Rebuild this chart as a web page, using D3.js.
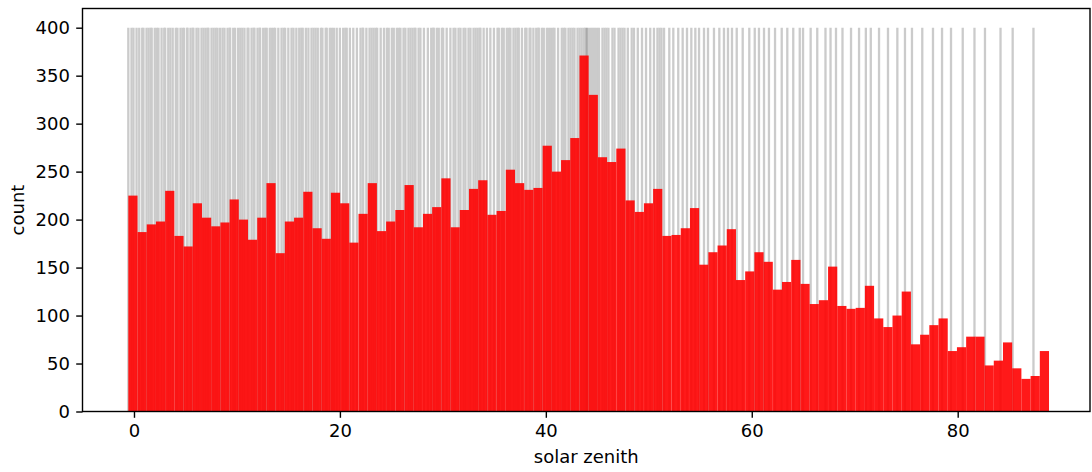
<!DOCTYPE html>
<html>
<head>
<meta charset="utf-8">
<script src="https://cdn.jsdelivr.net/npm/d3@7"></script>
<style>
  body { margin: 0; background: #fff; }
  text { font-family: "DejaVu Sans", sans-serif; fill: #000; }
</style>
</head>
<body>
<svg id="chart" width="1092" height="472"></svg>
<script>
// Histogram counts per solar-zenith bin (100 equal bins)
const counts = [
  225, 187, 195, 198, 230, 183, 172, 217, 202, 193,
  197, 221, 200, 179, 202, 238, 165, 198, 202, 229,
  191, 180, 228, 217, 176, 206, 238, 188, 198, 210,
  236, 192, 206, 213, 243, 192, 210, 232, 241, 205,
  209, 252, 238, 231, 233, 277, 250, 262, 285, 371,
  330, 265, 260, 274, 220, 208, 217, 232, 183, 184,
  191, 212, 153, 166, 173, 190, 137, 146, 166, 156,
  127, 135, 158, 133, 112, 116, 151, 110, 107, 108,
  131, 97, 88, 100, 125, 70, 80, 90, 97, 63,
  67, 78, 78, 48, 53, 72, 45, 34, 37, 63
];
// Zenith range covered by the bins
const binRange = [-0.55, 88.87];

// Individual zenith positions marked with reference lines
const zenithLines = [
  -0.55, -0.24, -0.05, 0.25, 0.51, 0.80, 0.92, 1.22, 1.42, 1.62, 1.72,
  2.02, 2.22, 2.38, 2.68, 2.94, 3.03, 3.33, 3.53, 3.76, 4.06, 4.22,
  4.52, 4.72, 4.87, 5.17, 5.19, 5.49, 5.69, 5.77, 6.07, 6.26,
  6.56, 6.76, 6.96, 7.16, 7.23, 7.53, 7.73, 7.93, 8.11, 8.36,
  8.60, 8.79, 9.09, 9.29, 9.34, 9.64, 9.82, 10.12, 10.32, 10.52, 10.73,
  11.03, 11.12, 11.42, 11.62, 11.70, 12.00, 12.20, 12.25, 12.55, 12.75, 12.89,
  13.19, 13.39, 13.59, 13.71, 14.02, 14.33, 14.53, 14.68, 14.99,
  15.30, 15.49, 15.77, 16.05, 16.25, 16.39, 16.69, 16.94,
  17.24, 17.44, 17.64, 17.85, 18.15, 18.30, 18.62, 18.72,
  19.02, 19.22, 19.42, 19.69, 20.00, 20.32, 20.52, 20.66, 20.97, 21.30, 21.65,
  22.00, 22.20, 22.26, 22.57, 22.88, 23.08, 23.28, 23.48, 23.62, 23.96,
  24.28, 24.56, 24.74, 25.04, 25.23, 25.53, 25.73, 25.88, 26.18, 26.36,
  26.66, 26.86, 27.06, 27.26, 27.34, 27.64, 27.82, 28.16, 28.54,
  28.87, 29.07, 29.11, 29.41, 29.60, 29.90, 30.03, 30.37, 30.73,
  31.04, 31.22, 31.52, 31.71, 32.01, 32.19, 32.49, 32.68,
  32.98, 33.18, 33.38, 33.58, 33.65, 33.96, 34.28, 34.61, 34.96,
  35.31, 35.43, 35.73, 35.91, 36.21, 36.41, 36.56, 36.86, 37.06, 37.26, 37.37,
  37.68, 38.00, 38.12, 38.42, 38.51, 38.79, 39.07, 39.27, 39.31, 39.61, 39.80,
  40.10, 40.30, 40.50, 40.70, 40.84, 41.19, 41.55, 41.75, 41.90,
  42.20, 42.40, 42.60, 42.78, 43.08, 43.28, 43.48, 43.68, 43.82,
  44.19, 44.39, 44.58, 44.77, 44.97, 45.16, 45.50, 45.70, 45.89, 46.08,
  46.47, 46.67, 47.06, 47.25, 47.45, 47.64, 47.96, 48.34, 48.56, 48.93,
  49.34, 49.73, 50.14, 50.50, 50.84, 51.04, 51.23, 51.48, 51.99, 52.38,
  52.86, 53.29, 53.71, 54.13, 54.52, 54.88, 55.36, 55.75, 56.33, 56.85,
  57.30, 57.69, 58.08, 58.54, 59.12, 59.76, 60.29, 60.70, 61.19, 61.67,
  62.26, 62.91, 63.45, 64.03, 64.66, 64.98, 65.72, 66.36, 67.16, 67.65,
  68.18, 68.81, 69.64, 70.42, 71.08, 71.56, 72.36, 73.23, 74.14, 74.88,
  75.56, 76.56, 77.60, 78.48, 79.35, 80.49, 81.63, 82.65, 84.16, 85.34,
  87.36
];
// Highlighted zenith line (drawn darker)
const peakZenith = [43.97];
const lineTop = 400;

const xTicks = [0, 20, 40, 60, 80];
const yTicks = [0, 50, 100, 150, 200, 250, 300, 350, 400];
const xDomain = [-5.0, 92.85];
const yDomain = [0, 420];

const plot = { left: 82.5, right: 1090, top: 8.5, bottom: 411.5 };
const fontSize = 18;
const tickLen = 6.3, tickPad = 6.3;

const svg = d3.select("#chart");
const x = d3.scaleLinear().domain(xDomain).range([plot.left, plot.right]);
const y = d3.scaleLinear().domain(yDomain).range([plot.bottom, plot.top]);

// Reference lines, behind the histogram
svg.append("g")
  .selectAll("line")
  .data(zenithLines)
  .join("line")
  .attr("x1", d => x(d)).attr("x2", d => x(d))
  .attr("y1", y(0)).attr("y2", y(lineTop))
  .attr("stroke", "#cbcbcb")
  .attr("stroke-width", 2.3);

svg.append("g")
  .selectAll("line")
  .data(peakZenith)
  .join("line")
  .attr("x1", d => x(d)).attr("x2", d => x(d))
  .attr("y1", y(0)).attr("y2", y(lineTop))
  .attr("stroke", "#a9a9a9")
  .attr("stroke-width", 2.3);

// Histogram bars
const binW = (binRange[1] - binRange[0]) / counts.length;
svg.append("g")
  .selectAll("rect")
  .data(counts)
  .join("rect")
  .attr("x", (d, i) => x(binRange[0] + i * binW))
  .attr("width", (d, i) => x(binRange[0] + (i + 1) * binW) - x(binRange[0] + i * binW))
  .attr("y", d => y(d))
  .attr("height", d => y(0) - y(d))
  .attr("fill", "#ff0000")
  .attr("fill-opacity", 0.9);

// Axes
const xAxis = d3.axisBottom(x).tickValues(xTicks).tickSize(tickLen).tickPadding(tickPad).tickFormat(d3.format("d"));
const yAxis = d3.axisLeft(y).tickValues(yTicks).tickSize(tickLen).tickPadding(tickPad).tickFormat(d3.format("d"));

const gx = svg.append("g").attr("transform", `translate(0,${plot.bottom})`).call(xAxis);
const gy = svg.append("g").attr("transform", `translate(${plot.left},0)`).call(yAxis);
[gx, gy].forEach(g => {
  g.select(".domain").remove();
  g.selectAll(".tick line").attr("stroke", "#000").attr("stroke-width", 1.4);
  g.selectAll(".tick text").attr("font-size", fontSize).attr("fill", "#000")
    .attr("font-family", "DejaVu Sans, sans-serif");
});

// Frame
svg.append("rect")
  .attr("x", plot.left).attr("y", plot.top)
  .attr("width", plot.right - plot.left).attr("height", plot.bottom - plot.top)
  .attr("fill", "none").attr("stroke", "#000").attr("stroke-width", 1.4);

// Axis titles
svg.append("text")
  .attr("x", (plot.left + plot.right) / 2).attr("y", 463)
  .attr("text-anchor", "middle").attr("font-size", fontSize)
  .text("solar zenith");
svg.append("text")
  .attr("transform", `translate(24,${(plot.top + plot.bottom) / 2}) rotate(-90)`)
  .attr("text-anchor", "middle").attr("font-size", fontSize)
  .text("count");
</script>
</body>
</html>
